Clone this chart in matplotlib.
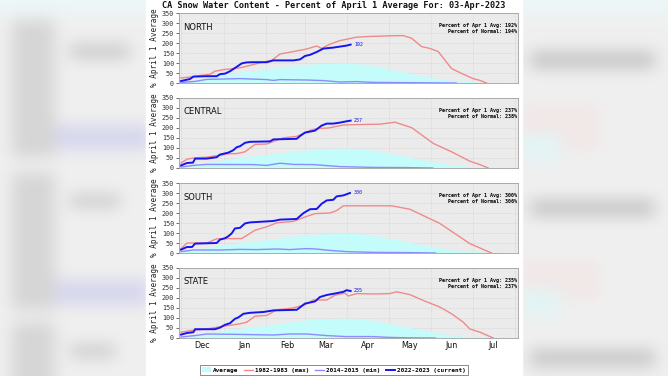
import numpy as np
import matplotlib
matplotlib.use("Agg")
import matplotlib.pyplot as plt
from matplotlib.patches import Patch, Rectangle
from matplotlib.lines import Line2D

# ---------------- data (x = days since Dec 1) ----------------
regions = ["NORTH", "CENTRAL", "SOUTH", "STATE"]
pct_apr1 = [192, 237, 300, 235]
pct_normal = [194, 238, 306, 237]

north_cur_x = [0, 6.5, 9, 18.6, 25.9, 28.3, 32, 35.6, 40.5, 44.1, 47.7, 52.6, 62.3, 67.1, 81.6, 86.5, 90.1, 93.8, 98.6, 103.4, 110.7, 115.5, 120.4, 123.3]
north_cur_y = [10, 20, 32, 34, 34, 44, 47, 59, 81, 98, 103, 104, 104, 113, 113, 118, 135, 141, 155, 172, 177, 182, 187, 192]
north_max_x = [0, 6.5, 13.8, 21.1, 24.7, 30.8, 35.6, 42.9, 50.2, 57.4, 66.1, 72, 81.6, 91.3, 98.6, 102.2, 108.3, 115.5, 127.6, 134.9, 151.8, 161.5, 167.6, 174.9, 180.9, 187, 196.7, 205.2, 212.4, 217.3, 222.1]
north_max_y = [25, 30, 37, 44, 59, 67, 70, 76, 88, 101, 114, 145, 157, 170, 185, 173, 194, 212, 229, 232, 236, 237, 224, 182, 173, 157, 72, 44, 22, 13, 0]
north_min_x = [0, 10.2, 18.6, 42.9, 62.3, 67.1, 72, 91.3, 103.4, 115.5, 127.6, 139.7, 176, 200]
north_min_y = [3, 8, 18, 22, 17, 13, 17, 15, 12, 5, 7, 3, 1, 0]
north_avg_x = [0, 15, 30, 45, 60, 75, 90, 105, 121, 135, 150, 165, 180, 195, 210, 225, 240]
north_avg_y = [3, 20, 40, 57, 67, 80, 93, 98, 100, 92, 72, 50, 30, 15, 6, 2, 0]

central_cur_x = [0, 4.3, 8.7, 10.2, 18.6, 25.9, 28.3, 34.4, 38, 40.5, 42.9, 46.5, 50.2, 64.7, 67.1, 84.1, 86.5, 90.1, 97.4, 102.2, 105.9, 110.7, 115.5, 119.2, 123.3]
central_cur_y = [13, 25, 27, 47, 47, 54, 67, 77, 89, 104, 109, 126, 131, 133, 143, 146, 160, 177, 187, 212, 222, 222, 227, 232, 237]
central_max_x = [0, 4.3, 9, 18.6, 28.3, 34.4, 40.5, 46.5, 53.8, 62.3, 68.4, 74.4, 84.1, 93.8, 98.6, 107.1, 118, 127.6, 144.6, 155.5, 167.6, 183.4, 196.7, 210, 217.3, 223.3]
central_max_y = [25, 44, 50, 54, 64, 71, 72, 81, 118, 120, 136, 151, 158, 188, 197, 200, 215, 217, 219, 229, 202, 123, 81, 34, 17, 0]
central_min_x = [0, 9, 18.6, 52.6, 62.3, 72, 81.6, 96.2, 105.9, 115.5, 139.7, 163.9, 183]
central_min_y = [5, 13, 18, 17, 13, 24, 18, 17, 12, 7, 3, 2, 0]
central_avg_x = [0, 15, 30, 45, 60, 75, 90, 105, 121, 135, 150, 165, 180, 195, 210, 225, 240]
central_avg_y = [5, 22, 40, 55, 65, 78, 90, 97, 100, 93, 76, 55, 35, 18, 7, 2, 0]

south_cur_x = [0, 4.3, 8, 10.2, 25.9, 28.3, 32, 34.4, 36.8, 39.2, 42.9, 46.5, 50.2, 67.1, 72, 84.1, 88.9, 93.8, 98.6, 102.2, 105.9, 110.7, 113.1, 118, 122.8]
south_cur_y = [17, 30, 30, 47, 50, 67, 74, 84, 98, 123, 126, 148, 153, 160, 167, 170, 199, 219, 220, 246, 263, 266, 283, 288, 300]
south_max_x = [0, 4.3, 18.6, 25.9, 35.6, 44.1, 53.8, 62.3, 69.6, 81.6, 88.9, 97.4, 108.3, 113.1, 118, 139.7, 153, 166.3, 188.1, 210, 225.7]
south_max_y = [22, 50, 50, 71, 72, 72, 114, 131, 151, 158, 177, 197, 200, 212, 236, 236, 236, 219, 148, 47, 0]
south_min_x = [0, 9, 28, 43, 55, 70, 79, 91, 98, 108, 120, 140, 164, 185]
south_min_y = [7, 15, 15, 18, 17, 20, 17, 22, 20, 13, 7, 3, 2, 0]
south_avg_x = [0, 15, 30, 45, 60, 75, 90, 105, 121, 135, 150, 165, 180, 195, 210, 225, 240]
south_avg_y = [5, 22, 40, 54, 65, 78, 90, 97, 100, 93, 76, 55, 35, 18, 7, 2, 0]

state_cur_x = [0, 4.3, 9, 10.2, 24.7, 28.3, 32, 35.6, 39.2, 41.7, 45.3, 50.2, 59.9, 67.1, 84.1, 86.5, 90.1, 97.4, 101, 105.9, 113.1, 118, 120.4, 123.3]
state_cur_y = [17, 25, 29, 44, 44, 52, 66, 74, 96, 103, 121, 126, 130, 138, 141, 153, 172, 183, 205, 215, 224, 231, 239, 235]
state_max_x = [0, 6.5, 18.6, 30.8, 42.9, 47.7, 53.8, 62.3, 69.6, 81.6, 90.1, 96.2, 105.9, 111.9, 119.2, 121.6, 127.6, 139.7, 151.8, 156.7, 166.3, 176, 188.1, 196.7, 205.2, 210, 217.3, 227]
state_max_y = [29, 37, 45, 59, 71, 79, 109, 113, 141, 150, 167, 190, 190, 214, 224, 210, 222, 220, 222, 231, 217, 188, 155, 121, 79, 45, 29, 0]
state_min_x = [0, 10, 18.6, 42.9, 67.1, 79, 91.3, 105.9, 120, 139.7, 151.8, 165, 185]
state_min_y = [5, 12, 20, 18, 15, 20, 20, 12, 7, 7, 3, 1, 0]
state_avg_x = [0, 15, 30, 45, 60, 75, 90, 105, 121, 135, 150, 165, 180, 195, 210, 225, 240]
state_avg_y = [4, 20, 36, 50, 62, 76, 90, 97, 100, 93, 75, 54, 34, 17, 6, 2, 0]

month_labels = ["Dec", "Jan", "Feb", "Mar", "Apr", "May", "Jun", "Jul"]
month_starts = [0, 31, 62, 90, 121, 151, 182, 212, 243]
legend_labels = ["Average", "1982-1983 (max)", "2014-2015 (min)", "2022-2023 (current)"]
title_text = "CA Snow Water Content - Percent of April 1 Average For: 03-Apr-2023"

series = [
    (north_cur_x, north_cur_y, north_max_x, north_max_y, north_min_x, north_min_y, north_avg_x, north_avg_y),
    (central_cur_x, central_cur_y, central_max_x, central_max_y, central_min_x, central_min_y, central_avg_x, central_avg_y),
    (south_cur_x, south_cur_y, south_max_x, south_max_y, south_min_x, south_min_y, south_avg_x, south_avg_y),
    (state_cur_x, state_cur_y, state_max_x, state_max_y, state_min_x, state_min_y, state_avg_x, state_avg_y),
]

# ---------------- styling ----------------
C_CUR = "#1515f0"
C_MAX = "#f08a8a"
C_MIN = "#8c8cff"
C_AVG = "#c4fbfb"
C_BG = "#ebebeb"
MONO = "DejaVu Sans Mono"

W, H = 668, 376
fig = plt.figure(figsize=(W / 100, H / 100), dpi=100)

# blurred side background (decorative)
def box_blur(a, r, n=3):
    for _ in range(n):
        for ax_ in (0, 1):
            c = np.cumsum(np.pad(a, [(r + 1, r) if i == ax_ else (0, 0) for i in range(2)] + [(0, 0)], mode="edge"), axis=ax_)
            if ax_ == 0:
                a = (c[2 * r + 1:] - c[:-2 * r - 1]) / (2 * r + 1)
            else:
                a = (c[:, 2 * r + 1:] - c[:, :-2 * r - 1]) / (2 * r + 1)
    return a

bg = np.ones((H, W, 3)) * 0.94
def put(x0, x1, y0, y1, col):
    bg[y0:y1, x0:x1] = np.array(col) / 255.0
put(0, 668, 0, 14, (236, 247, 248))
put(12, 55, 20, 157, (214, 214, 214)); put(12, 55, 173, 310, (214, 214, 214)); put(12, 55, 323, 376, (214, 214, 214))
put(70, 130, 45, 58, (200, 200, 200)); put(70, 120, 195, 207, (202, 202, 202)); put(70, 115, 345, 357, (202, 202, 202))
put(55, 150, 125, 150, (215, 215, 238)); put(55, 150, 280, 305, (215, 215, 238))
put(530, 655, 52, 68, (196, 196, 196)); put(530, 655, 200, 216, (198, 198, 198)); put(530, 655, 350, 366, (198, 198, 198))
put(520, 600, 105, 150, (242, 232, 232)); put(520, 600, 260, 300, (242, 232, 232))
put(520, 560, 135, 160, (226, 245, 245)); put(520, 560, 290, 315, (226, 245, 245))
bg = np.clip(box_blur(bg, 7), 0, 1)
bax = fig.add_axes([0, 0, 1, 1], zorder=-10)
bax.imshow(bg, aspect="auto", extent=[0, W, H, 0], interpolation="bilinear")
bax.add_patch(Rectangle((146, 0), 376, H, color="white"))
bax.set_xlim(0, W); bax.set_ylim(H, 0); bax.axis("off")

fig.text(334 / W, 1 - 6 / H, title_text, ha="center", va="center", fontsize=6.1,
         fontweight="bold", family=MONO, color="#111111")

left = 179 / W
width = (518 - 179) / W
tops = [13, 98, 183, 268]
ph = 70

for i, (name, data) in enumerate(zip(regions, series)):
    cx, cy, mx, my, nx, ny, ax_x, ax_y = data
    bottom = 1 - (tops[i] + ph) / H
    ax = fig.add_axes([left, bottom, width, ph / H])
    ax.set_facecolor(C_BG)
    ax.fill_between(ax_x, 0, ax_y, color=C_AVG, lw=0, zorder=2)
    ax.plot(mx, my, color=C_MAX, lw=1.0, zorder=3)
    ax.plot(nx, ny, color=C_MIN, lw=1.0, zorder=3)
    ax.plot(cx, cy, color=C_CUR, lw=1.4, zorder=4)
    ax.text(cx[-1] + 2.5, cy[-1], str(pct_apr1[i]), color=C_CUR, fontsize=3.6,
            family=MONO, va="center", ha="left", zorder=5)
    ax.set_xlim(-1.5, 245)
    ax.set_ylim(0, 350)
    ax.set_yticks(range(0, 351, 50))
    ax.tick_params(axis="y", labelsize=4.9, length=2, width=0.5, pad=1.5, colors="#333333")
    for lab in ax.get_yticklabels():
        lab.set_family(MONO)
    ax.set_xticks(month_starts, minor=True)
    ax.set_xticks([m + 15 for m in month_starts[:-1]])
    ax.tick_params(axis="x", which="both", length=0)
    if i == 3:
        ax.set_xticklabels(month_labels, fontsize=5.8, color="#111111")
        ax.tick_params(axis="x", pad=2)
    else:
        ax.set_xticklabels([])
    ax.grid(True, which="minor", axis="x", color="#d2d2d2", lw=0.5, ls=(0, (1, 1)))
    ax.grid(True, which="major", axis="y", color="#d2d2d2", lw=0.5, ls=(0, (1, 1)))
    ax.set_axisbelow(True)
    for s in ax.spines.values():
        s.set_color("#a0a0a0"); s.set_linewidth(0.6)
    ax.set_ylabel("% April 1 Average", fontsize=5.5, family=MONO, labelpad=2, color="#222222")
    ax.text(0.012, 0.80, name, transform=ax.transAxes, fontsize=6.0, va="center",
            ha="left", color="#111111", zorder=6)
    ax.text(0.997, 0.815, f"Percent of Apr 1 Avg: {pct_apr1[i]}%", transform=ax.transAxes,
            fontsize=3.6, fontweight="bold", family=MONO, ha="right", va="center", zorder=6)
    ax.text(0.997, 0.735, f"Percent of Normal: {pct_normal[i]}%", transform=ax.transAxes,
            fontsize=3.6, fontweight="bold", family=MONO, ha="right", va="center", zorder=6)

handles = [Patch(facecolor=C_AVG, edgecolor="none"),
           Line2D([], [], color=C_MAX, lw=1.0),
           Line2D([], [], color=C_MIN, lw=1.0),
           Line2D([], [], color=C_CUR, lw=1.4)]
leg = fig.legend(handles, legend_labels, loc="center", bbox_to_anchor=(334 / W, 1 - 370 / H),
                 ncol=4, frameon=True, fancybox=False, edgecolor="#555555",
                 prop={"family": MONO, "weight": "bold", "size": 4.3},
                 handlelength=1.5, handleheight=0.9, handletextpad=0.4, columnspacing=0.9,
                 borderpad=0.3, borderaxespad=0)
leg.get_frame().set_linewidth(0.6)

fig.savefig("out.png", dpi=100)
